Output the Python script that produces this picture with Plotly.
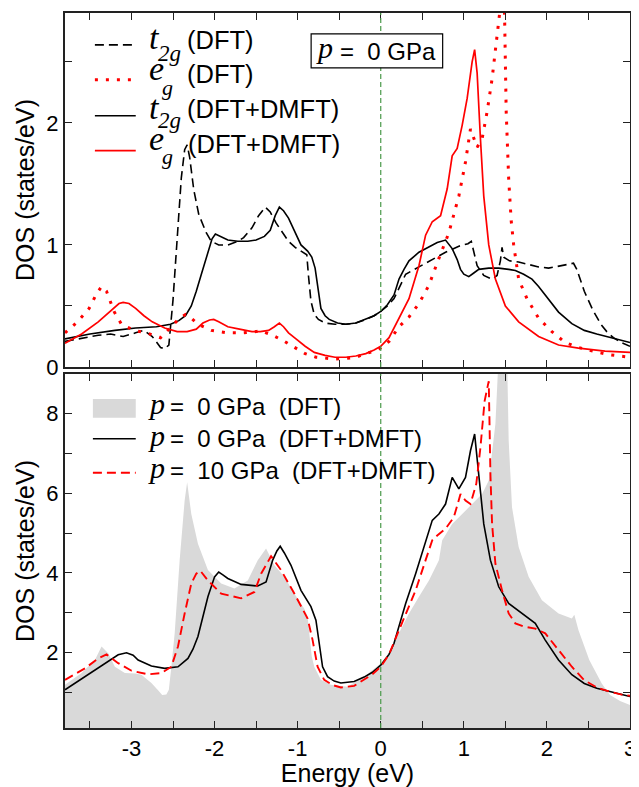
import plotly.graph_objects as go

# ---------------- data: top panel (orbital-resolved DOS, p = 0 GPa) ----------------
t2g_dft_E = [-3.8, -3.6, -3.4, -3.25, -3.1, -2.95, -2.85, -2.75, -2.65, -2.6, -2.55, -2.5, -2.45, -2.4,
             -2.36, -2.33, -2.3, -2.25, -2.19, -2.1, -2.04, -1.95, -1.84, -1.72, -1.65, -1.55, -1.47,
             -1.39, -1.33, -1.26, -1.18, -1.11, -1.03, -0.96, -0.89, -0.87, -0.84, -0.8, -0.75, -0.67,
             -0.55, -0.42, -0.3, -0.18, -0.08, 0.0, 0.08, 0.16, 0.22, 0.3, 0.46, 0.62, 0.78, 0.94, 1.05,
             1.09, 1.16, 1.24, 1.34, 1.4, 1.44, 1.46, 1.48, 1.55, 1.66, 1.78, 1.9, 2.02, 2.1, 2.2, 2.32,
             2.36, 2.45, 2.55, 2.65, 2.72, 2.8, 2.9, 3.0]
t2g_dft_dos = [0.21, 0.235, 0.26, 0.27, 0.25, 0.28, 0.30, 0.25, 0.16, 0.15, 0.18, 0.55, 1.1, 1.55,
               1.78, 1.82, 1.72, 1.45, 1.25, 1.1, 1.03, 1.0, 1.0, 1.03, 1.06, 1.14, 1.24,
               1.31, 1.27, 1.18, 1.1, 1.03, 0.98, 0.95, 0.92, 0.75, 0.54, 0.43, 0.39, 0.36,
               0.35, 0.35, 0.36, 0.39, 0.42, 0.455, 0.5, 0.56, 0.65, 0.76, 0.82, 0.88, 0.94, 0.99, 1.01,
               1.03, 0.83, 0.75, 0.72, 0.75, 0.87, 0.98, 0.9, 0.87, 0.86, 0.84, 0.82, 0.81, 0.82, 0.83, 0.85,
               0.8, 0.62, 0.47, 0.35, 0.29, 0.24, 0.2, 0.17]

eg_dft_E = [-3.8, -3.65, -3.51, -3.42, -3.36, -3.3, -3.21, -3.12, -2.97, -2.82, -2.65, -2.53, -2.42,
            -2.35, -2.28, -2.2, -2.04, -1.85, -1.65, -1.5, -1.45, -1.38, -1.3, -1.16, -1.03, -0.91,
            -0.78, -0.67, -0.55, -0.42, -0.3, -0.18, -0.08, 0.0, 0.1, 0.22, 0.34, 0.46, 0.58, 0.7,
            0.82, 0.94, 1.02, 1.08, 1.12, 1.16, 1.22, 1.28, 1.34, 1.4, 1.44, 1.47, 1.49, 1.51, 1.54,
            1.57, 1.6, 1.66, 1.76, 1.9, 2.06, 2.22, 2.38, 2.55, 2.76, 3.0]
eg_dft_dos = [0.28, 0.37, 0.48, 0.6, 0.66, 0.62, 0.455, 0.35, 0.30, 0.28, 0.24, 0.32, 0.40,
              0.43, 0.40, 0.35, 0.30, 0.28, 0.28, 0.29, 0.30, 0.28, 0.26, 0.21, 0.16, 0.11,
              0.08, 0.07, 0.065, 0.07, 0.08, 0.11, 0.13, 0.155, 0.21, 0.33, 0.41, 0.52, 0.67, 0.89,
              1.10, 1.40, 1.68, 1.95, 1.88, 1.80, 1.87, 2.09, 2.36, 2.69, 2.95, 3.2, 2.9, 2.09, 1.54,
              1.2, 1.0, 0.72, 0.56, 0.40, 0.29, 0.20, 0.16, 0.13, 0.10, 0.08]

t2g_dmft_E = [-3.8, -3.5, -3.2, -2.95, -2.7, -2.53, -2.43, -2.35, -2.28, -2.22, -2.15, -2.09, -2.03,
              -1.99, -1.93, -1.84, -1.72, -1.6, -1.5, -1.4, -1.33, -1.27, -1.22, -1.17, -1.11, -1.04,
              -0.96, -0.88, -0.83, -0.79, -0.75, -0.72, -0.67, -0.62, -0.52, -0.42, -0.3, -0.18, -0.08,
              0.0, 0.08, 0.16, 0.22, 0.28, 0.34, 0.46, 0.58, 0.68, 0.78, 0.86, 0.92, 0.96, 1.0, 1.06,
              1.12, 1.18, 1.3, 1.42, 1.54, 1.62, 1.72, 1.82, 1.9, 1.98, 2.06, 2.14, 2.3, 2.45, 2.6,
              2.76, 2.9, 3.0]
t2g_dmft_dos = [0.23, 0.27, 0.30, 0.32, 0.33, 0.35, 0.38, 0.42, 0.5, 0.62, 0.78, 0.92, 1.05,
                1.09, 1.07, 1.04, 1.03, 1.03, 1.04, 1.07, 1.12, 1.24, 1.31, 1.28, 1.22, 1.12,
                1.0, 0.95, 0.9, 0.81, 0.62, 0.48, 0.42, 0.39, 0.36, 0.35, 0.36, 0.39, 0.42,
                0.455, 0.51, 0.59, 0.72, 0.8, 0.87, 0.94, 0.98, 1.02, 1.04, 0.97, 0.88, 0.80, 0.76, 0.74,
                0.77, 0.80, 0.81, 0.81, 0.80, 0.79, 0.76, 0.72, 0.66, 0.59, 0.52, 0.45, 0.355, 0.30, 0.27,
                0.24, 0.22, 0.20]

eg_dmft_E = [-3.8, -3.6, -3.4, -3.25, -3.15, -3.1, -3.03, -2.95, -2.85, -2.75, -2.6, -2.45, -2.33,
             -2.22, -2.14, -2.06, -2.01, -1.95, -1.84, -1.7, -1.55, -1.45, -1.35, -1.28, -1.22, -1.17,
             -1.11, -1.02, -0.91, -0.8, -0.67, -0.55, -0.42, -0.3, -0.18, -0.08, 0.0, 0.1, 0.22, 0.34,
             0.46, 0.54, 0.62, 0.72, 0.8, 0.86, 0.92, 0.98, 1.04, 1.1, 1.13, 1.16, 1.2, 1.24, 1.3,
             1.38, 1.5, 1.66, 1.9, 2.14, 2.38, 2.7, 3.0]
eg_dmft_dos = [0.195, 0.27, 0.37, 0.46, 0.52, 0.53, 0.52, 0.48, 0.42, 0.37, 0.32, 0.29, 0.29,
               0.31, 0.36, 0.385, 0.39, 0.37, 0.33, 0.31, 0.29, 0.29, 0.30, 0.33, 0.36, 0.33,
               0.28, 0.23, 0.17, 0.12, 0.095, 0.08, 0.08, 0.09, 0.11, 0.14, 0.17, 0.24, 0.40, 0.56,
               0.83, 1.08, 1.19, 1.24, 1.46, 1.73, 1.79, 1.98, 2.20, 2.50, 2.60, 2.41, 1.87, 1.40, 1.0,
               0.72, 0.50, 0.37, 0.25, 0.18, 0.155, 0.13, 0.12]

# ---------------- data: bottom panel (total DOS) ----------------
tot_dft_E = [-3.8, -3.6, -3.44, -3.36, -3.28, -3.2, -3.08, -2.95, -2.88, -2.76, -2.68, -2.63, -2.58,
             -2.55, -2.52, -2.48, -2.42, -2.36, -2.33, -2.28, -2.2, -2.08, -1.92, -1.76, -1.6, -1.48,
             -1.38, -1.28, -1.16, -1.04, -0.92, -0.88, -0.86, -0.83, -0.8, -0.72, -0.6, -0.4, -0.2,
             -0.1, 0.0, 0.1, 0.22, 0.34, 0.46, 0.58, 0.7, 0.74, 0.86, 0.98, 1.1, 1.22, 1.3, 1.38,
             1.42, 1.45, 1.5, 1.52, 1.54, 1.58, 1.66, 1.78, 1.94, 2.14, 2.3, 2.33, 2.38, 2.51, 2.66,
             2.76, 2.88, 3.0]
tot_dft_dos = [1.19, 1.48, 1.81, 2.15, 1.98, 1.64, 1.48, 1.47, 1.44, 1.23, 1.05, 0.93, 0.94,
               1.06, 1.64, 2.48, 4.32, 5.82, 6.28, 5.48, 4.73, 4.07, 3.73, 3.61, 3.81, 4.32,
               4.61, 4.19, 3.9, 3.48, 3.1, 2.9, 2.48, 1.9, 1.64, 1.31, 1.19, 1.14, 1.39,
               1.55, 1.72, 2.0, 2.48, 2.98, 3.40, 3.81, 4.32, 4.82, 5.23, 5.48, 5.73, 5.98, 6.32, 7.74,
               9.5, 12.0, 11.0, 9.5, 7.32, 5.65, 4.65, 3.9, 3.31, 2.98, 2.85, 2.95, 2.56, 1.81, 1.22,
               0.93, 0.78, 0.68]

tot_p0_E = [-3.8, -3.56, -3.32, -3.16, -3.06, -2.98, -2.92, -2.76, -2.6, -2.44, -2.32, -2.26, -2.2,
            -2.14, -2.08, -2.0, -1.95, -1.9, -1.84, -1.68, -1.48, -1.38, -1.3, -1.25, -1.21, -1.16,
            -1.08, -0.96, -0.84, -0.78, -0.74, -0.7, -0.64, -0.56, -0.48, -0.32, -0.2, -0.1, 0.0,
            0.1, 0.16, 0.22, 0.3, 0.42, 0.54, 0.62, 0.7, 0.78, 0.86, 0.94, 1.02, 1.08, 1.13, 1.18,
            1.24, 1.32, 1.42, 1.54, 1.7, 1.86, 1.98, 2.14, 2.3, 2.45, 2.6, 2.76, 2.9, 3.0]
tot_p0_dos = [1.06, 1.39, 1.73, 1.94, 1.99, 1.93, 1.81, 1.66, 1.60, 1.64, 1.85, 2.08, 2.4,
              2.9, 3.4, 3.9, 4.02, 3.95, 3.86, 3.71, 3.67, 3.77, 4.32, 4.55, 4.67, 4.5,
              4.19, 3.56, 3.15, 2.81, 2.15, 1.64, 1.39, 1.28, 1.23, 1.27, 1.38, 1.5, 1.68,
              1.95, 2.23, 2.65, 3.23, 3.98, 4.82, 5.32, 5.48, 5.73, 6.4, 6.11, 6.4, 7.07, 7.49, 6.49,
              5.23, 4.32, 3.65, 3.23, 2.98, 2.73, 2.31, 1.81, 1.44, 1.22, 1.1, 1.01, 0.94, 0.89]

tot_p10_E = [-3.8, -3.56, -3.4, -3.3, -3.16, -3.0, -2.8, -2.64, -2.52, -2.44, -2.36, -2.28, -2.22,
             -2.17, -2.08, -1.92, -1.68, -1.52, -1.44, -1.32, -1.2, -1.04, -0.88, -0.82, -0.76,
             -0.68, -0.58, -0.48, -0.32, -0.2, -0.1, 0.0, 0.1, 0.22, 0.3, 0.42, 0.54, 0.62, 0.68,
             0.78, 0.88, 0.96, 1.02, 1.08, 1.15, 1.2, 1.25, 1.3, 1.32, 1.34, 1.38, 1.46, 1.54, 1.62,
             1.72, 1.86, 1.98, 2.14, 2.3, 2.45, 2.6, 2.76, 2.9, 3.0]
tot_p10_dos = [1.31, 1.6, 1.85, 1.95, 1.73, 1.54, 1.45, 1.48, 1.64, 2.15, 2.98, 3.73, 3.98,
               4.05, 3.81, 3.48, 3.36, 3.52, 3.98, 4.42, 4.07, 3.48, 2.85, 2.31, 1.64,
               1.31, 1.18, 1.12, 1.16, 1.31, 1.45, 1.64, 1.95, 2.56, 2.98, 3.56, 4.32, 4.82, 4.94,
               5.11, 5.4, 5.98, 5.82, 5.73, 6.24, 7.15, 8.32, 8.82, 6.49, 5.23, 4.23, 3.56, 2.98, 2.73,
               2.65, 2.6, 2.48, 2.06, 1.64, 1.3, 1.12, 1.01, 0.94, 0.91]

energy_ticks = [-3, -2, -1, 0, 1, 2, 3]
energy_tick_labels = ["-3", "-2", "-1", "0", "1", "2", "3"]

# ---------------- figure ----------------
PAGE_W, PAGE_H = 639, 787
OFF = 8                      # default body margin of the html page
W, H = PAGE_W - OFF, PAGE_H - OFF
L, R, T, B = 65, 632, 11, 728   # plot-area edges in page pixels
SANS = "Liberation Sans"
SERIF = "Liberation Serif"
BLACK_DASH = "9px,5px"
RED_DOT = "3px,8px"
RED_DASH = "9px,5px"
NB = "\u00a0"


def px_x(px):
    return (px - L) / (R - L)


def px_y(py):
    return (B - py) / (B - T)


fig = go.Figure()

# top panel traces
fig.add_trace(go.Scatter(x=t2g_dft_E, y=t2g_dft_dos, xaxis="x2", yaxis="y2", mode="lines",
                         line=dict(color="black", width=1.6, dash=BLACK_DASH)))
fig.add_trace(go.Scatter(x=t2g_dmft_E, y=t2g_dmft_dos, xaxis="x2", yaxis="y2", mode="lines",
                         line=dict(color="black", width=1.6)))
fig.add_trace(go.Scatter(x=eg_dft_E, y=eg_dft_dos, xaxis="x2", yaxis="y2", mode="lines",
                         line=dict(color="#ff0000", width=3, dash=RED_DOT)))
fig.add_trace(go.Scatter(x=eg_dmft_E, y=eg_dmft_dos, xaxis="x2", yaxis="y2", mode="lines",
                         line=dict(color="#ff0000", width=1.7)))

# bottom panel traces
fig.add_trace(go.Scatter(x=tot_dft_E, y=tot_dft_dos, xaxis="x", yaxis="y", mode="lines",
                         fill="tozeroy", fillcolor="#d9d9d9", line=dict(width=0, color="#d9d9d9")))
fig.add_trace(go.Scatter(x=tot_p0_E, y=tot_p0_dos, xaxis="x", yaxis="y", mode="lines",
                         line=dict(color="black", width=1.6)))
fig.add_trace(go.Scatter(x=tot_p10_E, y=tot_p10_dos, xaxis="x", yaxis="y", mode="lines",
                         line=dict(color="#ff0000", width=1.9, dash=RED_DASH)))

axis_common = dict(showline=True, linecolor="#222222", linewidth=2, mirror="ticks",
                   ticks="inside", ticklen=7, tickwidth=1.2, tickcolor="#222222",
                   showgrid=False, zeroline=False,
                   tickfont=dict(family=SANS, size=22, color="black"))
minor_common = dict(ticks="inside", ticklen=7, tickwidth=1.2, tickcolor="#222222")
title_font = dict(family=SANS, size=25, color="black")

fig.update_layout(
    width=W, height=H,
    margin=dict(l=L - OFF, r=PAGE_W - R, t=T - OFF, b=PAGE_H - B),
    paper_bgcolor="white", plot_bgcolor="white",
    showlegend=False,
    xaxis=dict(domain=[0, 1], anchor="y", range=[-3.8, 3.0],
               tickmode="array", tickvals=energy_ticks, ticktext=energy_tick_labels,
               minor=dict(dtick=0.5, tick0=0, **minor_common),
               title=dict(text="Energy (eV)", font=title_font, standoff=0),
               **axis_common),
    xaxis2=dict(domain=[0, 1], anchor="y2", range=[-3.8, 3.0], matches="x",
                tickmode="array", tickvals=energy_ticks, ticktext=energy_tick_labels,
                showticklabels=False,
                minor=dict(dtick=0.5, tick0=0, **minor_common),
                **axis_common),
    yaxis=dict(domain=[0, px_y(373)], anchor="x", range=[0.1, 9.0], tick0=0, dtick=2,
               minor=dict(dtick=1, tick0=0, **minor_common),
               title=dict(text="DOS (states/eV)", font=title_font, standoff=5),
               **axis_common),
    yaxis2=dict(domain=[px_y(366), 1], anchor="x2", range=[0, 2.9], tick0=0, dtick=1,
                minor=dict(dtick=0.5, tick0=0, **minor_common),
                title=dict(text="DOS (states/eV)", font=title_font, standoff=5),
                **axis_common),
)

shapes = []
# Fermi level markers
for yref in ("y domain", "y2 domain"):
    shapes.append(dict(type="line", xref="x", yref=yref, x0=0, x1=0, y0=0, y1=1,
                       line=dict(color="#4a9a4a", width=1.2, dash="5px,3px"), layer="above"))

# top legend samples
top_rows = [43, 78, 114, 149]
top_styles = [dict(color="black", width=1.6, dash=BLACK_DASH),
              dict(color="#ff0000", width=3, dash=RED_DOT),
              dict(color="black", width=1.6),
              dict(color="#ff0000", width=1.7)]
for yy, st in zip(top_rows, top_styles):
    shapes.append(dict(type="line", xref="paper", yref="paper", x0=px_x(95), x1=px_x(136),
                       y0=px_y(yy), y1=px_y(yy), line=st))

# bottom legend samples
shapes.append(dict(type="rect", xref="paper", yref="paper", x0=px_x(93), x1=px_x(136),
                   y0=px_y(417), y1=px_y(398), fillcolor="#d9d9d9", line=dict(width=0)))
shapes.append(dict(type="line", xref="paper", yref="paper", x0=px_x(93), x1=px_x(136),
                   y0=px_y(438), y1=px_y(438), line=dict(color="black", width=1.6)))
shapes.append(dict(type="line", xref="paper", yref="paper", x0=px_x(93), x1=px_x(136),
                   y0=px_y(472), y1=px_y(472), line=dict(color="#ff0000", width=1.9, dash=RED_DASH)))

# pressure box
shapes.append(dict(type="rect", xref="paper", yref="paper", x0=px_x(312), x1=px_x(444),
                   y0=px_y(66), y1=px_y(32), line=dict(color="black", width=1.2),
                   fillcolor="white"))

fig.update_layout(shapes=shapes)


def ann(text, px, py, size, family):
    return dict(text=text, x=px_x(px), y=px_y(py), xref="paper", yref="paper",
                xanchor="left", yanchor="middle", showarrow=False,
                font=dict(family=family, size=size, color="black"))


anns = []
# top legend
anns += [ann("<i>t</i>", 147, 35.5, 34, SERIF), ann("<i>2g</i>", 156, 51.5, 23, SERIF),
         ann("(DFT)", 185, 37.7, 25.5, SANS)]
anns += [ann("<i>e</i>", 147, 66.5, 34, SERIF), ann("<i>g</i>", 160, 86, 22, SERIF),
         ann("(DFT)", 185, 72, 25.5, SANS)]
anns += [ann("<i>t</i>", 147, 105.5, 34, SERIF), ann("<i>2g</i>", 156, 119, 23, SERIF),
         ann("(DFT+DMFT)", 185, 107, 25.5, SANS)]
anns += [ann("<i>e</i>", 147, 136.5, 34, SERIF), ann("<i>g</i>", 160, 155, 22, SERIF),
         ann("(DFT+DMFT)", 186, 142, 25.5, SANS)]
# pressure label
anns += [ann("<i>p</i>", 315, 46, 30, SERIF), ann("=" + NB + NB + "0 GPa", 339, 49.5, 24, SANS)]
# bottom legend
anns += [ann("<i>p</i>", 146, 403, 30, SERIF),
         ann("=" + NB + NB + "0 GPa" + NB + " (DFT)", 168, 405.5, 24, SANS)]
anns += [ann("<i>p</i>", 146, 435, 30, SERIF),
         ann("=" + NB + NB + "0 GPa" + NB + " (DFT+DMFT)", 168, 437.5, 24, SANS)]
anns += [ann("<i>p</i>", 146, 467, 30, SERIF),
         ann("=" + NB + NB + "10 GPa" + NB + " (DFT+DMFT)", 168, 469.5, 24, SANS)]

fig.update_layout(annotations=anns)

fig.write_html("out.html")
